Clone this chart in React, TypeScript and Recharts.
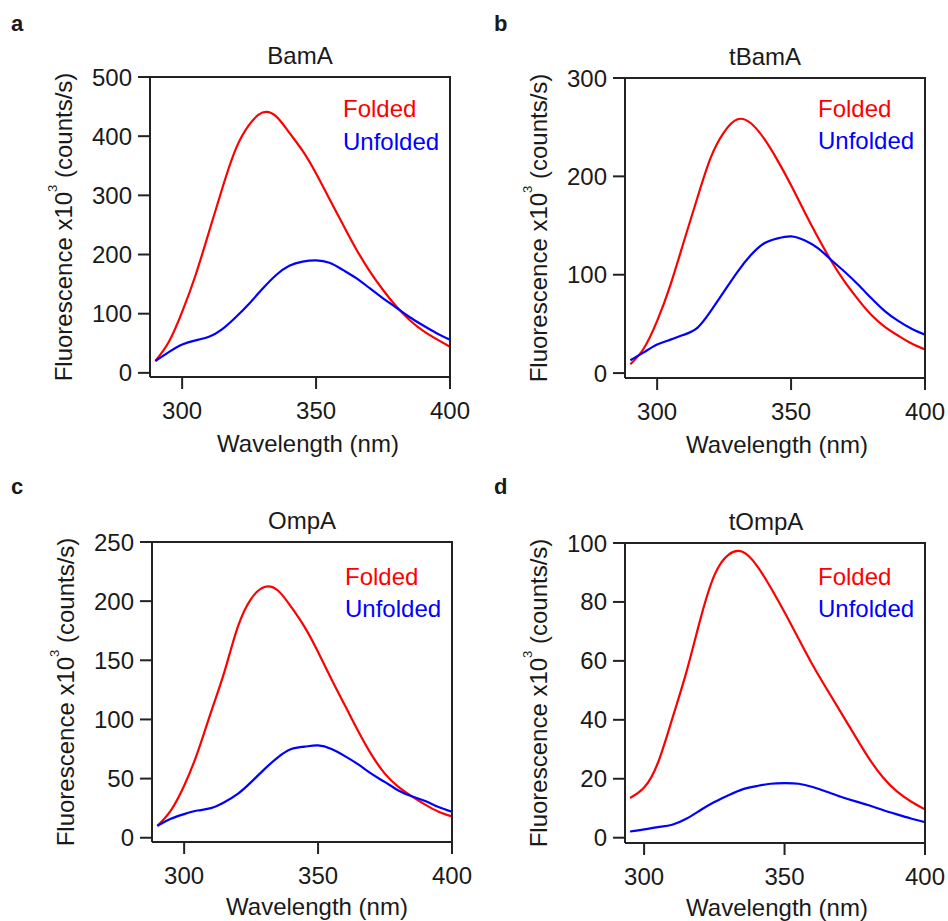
import React from "react";
import { LineChart, Line, XAxis, YAxis, Legend, ReferenceArea } from "recharts";

// wavelengths (nm)
const NM = [290, 295, 300, 305, 310, 315, 320, 325, 330, 335, 340, 345, 350, 355, 360, 365, 370, 375, 380, 385, 390, 395, 400];
const NM_TOMPA = [295, 300, 305, 310, 315, 320, 325, 330, 335, 340, 345, 350, 355, 360, 365, 370, 375, 380, 385, 390, 395, 400];

// fluorescence x10^3 counts/s
const BAMA_FOLDED = [20, 52, 103, 165, 238, 312, 378, 419, 440, 434, 406, 375, 337, 294, 251, 209, 172, 140, 112, 89, 71, 57, 44];
const BAMA_UNFOLDED = [20, 35, 48, 55, 61, 74, 94, 117, 142, 165, 181, 188, 190, 186, 174, 160, 143, 126, 110, 94, 80, 67, 56];

const TBAMA_FOLDED = [9, 25, 53, 90, 134, 178, 219, 245, 258, 254, 238, 216, 191, 164, 138, 114, 93, 75, 59, 47, 38, 30, 24];
const TBAMA_UNFOLDED = [13, 21, 29, 34, 39, 46, 63, 83, 103, 120, 132, 137, 139, 135, 127, 115, 103, 90, 76, 63, 53, 45, 39];

const OMPA_FOLDED = [10, 23, 44, 72, 106, 140, 178, 202, 212, 209, 195, 178, 157, 134, 112, 90, 70, 54, 43, 35, 28, 22, 18];
const OMPA_UNFOLDED = [10, 16, 20, 23, 25, 30, 37, 47, 58, 68, 75, 77, 78, 75, 69, 62, 54, 47, 40, 35, 31, 26, 22];

const TOMPA_FOLDED = [13.5, 17, 25.6, 40.3, 56, 74, 89, 96, 97, 92.5, 85, 76.5, 67.5, 58.6, 50.5, 42.6, 34.7, 27, 20.5, 15.7, 12.3, 9.6];
const TOMPA_UNFOLDED = [2.1, 2.8, 3.6, 4.4, 6.4, 9.3, 12.1, 14.4, 16.4, 17.5, 18.3, 18.5, 18.3, 17.2, 15.6, 13.9, 12.4, 11, 9.4, 7.9, 6.5, 5.3];

const X_TICKS = [300, 350, 400];
const BAMA_TICKS = [0, 100, 200, 300, 400, 500];
const TBAMA_TICKS = [0, 100, 200, 300];
const OMPA_TICKS = [0, 50, 100, 150, 200, 250];
const TOMPA_TICKS = [0, 20, 40, 60, 80, 100];

const INK = "#1a1a1a";
const FONT = '"Liberation Sans", Arial, Helvetica, sans-serif';
const PLOT = 300;

const rows = (nm: number[], folded: number[], unfolded: number[]) =>
  nm.map((x, i) => ({ nm: x, folded: folded[i], unfolded: unfolded[i] }));

// y-axis title, plus the top and right edges of the box around the plot area
function FluorLabel(props: any) {
  const vb = props.viewBox || { x: 0, y: 0, width: 150, height: PLOT };
  const px = vb.x + vb.width;
  const cx = px - 78.5;
  const cy = vb.y + vb.height / 2;
  return (
    <g>
      <path
        d={`M${px},${vb.y}H${px + PLOT}V${vb.y + vb.height}`}
        fill="none"
        stroke="#222"
        strokeWidth={2}
      />
      <text
        x={cx}
        y={cy}
        transform={`rotate(-90 ${cx} ${cy})`}
        textAnchor="middle"
        fontSize={24}
        fill={INK}
      >
        Fluorescence x10
        <tspan fontSize={13} dy={-15}>
          3
        </tspan>
        <tspan dy={15}> (counts/s)</tspan>
      </text>
    </g>
  );
}

function LegendBlock({ payload }: any) {
  return (
    <div style={{ fontSize: 24, lineHeight: "32.5px", whiteSpace: "nowrap" }}>
      {(payload || []).map((p: any) => (
        <div key={p.value} style={{ color: p.color }}>
          {p.value}
        </div>
      ))}
    </div>
  );
}

interface PanelProps {
  letter: string;
  title: string;
  data: { nm: number; folded: number; unfolded: number }[];
  left: number;
  top: number;
  width: number;
  height: number;
  plotX: number;
  plotY: number;
  xDomain: [number, number];
  yDomain: [number, number];
  yTicks: number[];
  titleDx: number;
  xLabelDx: number;
  xLabelOffset: number;
  legendTop: number;
}

function Panel(p: PanelProps) {
  const axis = { stroke: "#222", strokeWidth: 2 };
  const tick = { fontSize: 24, fill: INK };
  return (
    <>
      <div
        style={{
          position: "absolute",
          left: p.left + (p.left ? 24 : 11),
          top: p.top + (p.top ? 15.9 : 13.4),
          fontSize: 22,
          lineHeight: "22px",
          fontWeight: "bold",
          color: INK,
        }}
      >
        {p.letter}
      </div>
      <div style={{ position: "absolute", left: p.left, top: p.top }}>
        <LineChart
          width={p.width}
          height={p.height}
          data={p.data}
          margin={{ top: p.plotY, right: p.width - p.plotX - PLOT, left: 0, bottom: 0 }}
        >
          <XAxis
            dataKey="nm"
            type="number"
            domain={p.xDomain}
            allowDataOverflow
            ticks={X_TICKS}
            height={p.height - p.plotY - PLOT}
            tickSize={12}
            tickMargin={13}
            tick={tick}
            axisLine={axis}
            tickLine={axis}
            label={{
              value: "Wavelength (nm)",
              position: "insideTop",
              offset: p.xLabelOffset,
              dx: p.xLabelDx,
              fontSize: 24,
              fill: INK,
            }}
          />
          <YAxis
            type="number"
            domain={p.yDomain}
            allowDataOverflow
            ticks={p.yTicks}
            width={p.plotX}
            tickSize={12}
            tickMargin={6}
            tick={tick}
            axisLine={axis}
            tickLine={axis}
            label={<FluorLabel />}
          />
          <ReferenceArea
            x1={p.xDomain[0]}
            x2={p.xDomain[1]}
            y1={p.yDomain[0]}
            y2={p.yDomain[1]}
            ifOverflow="visible"
            fill="none"
            fillOpacity={0}
            label={{
              value: p.title,
              position: "top",
              offset: 13,
              dx: p.titleDx,
              fontSize: 24,
              fill: INK,
            }}
          />
          <Legend
            verticalAlign="middle"
            align="center"
            content={<LegendBlock />}
            wrapperStyle={{
              left: p.plotX + PLOT - 107,
              top: p.legendTop,
              width: "auto",
              height: "auto",
            }}
          />
          <Line
            type="natural"
            dataKey="folded"
            name="Folded"
            stroke="#ff0000"
            strokeWidth={2.2}
            dot={false}
            activeDot={false}
            isAnimationActive={false}
          />
          <Line
            type="natural"
            dataKey="unfolded"
            name="Unfolded"
            stroke="#0000ff"
            strokeWidth={2.2}
            dot={false}
            activeDot={false}
            isAnimationActive={false}
          />
        </LineChart>
      </div>
    </>
  );
}

export default function App() {
  return (
    <div
      style={{
        position: "absolute",
        left: 0,
        top: 0,
        width: 948,
        height: 921,
        background: "#fff",
        fontFamily: FONT,
        overflow: "hidden",
      }}
    >
      <Panel
        letter="a"
        title="BamA"
        data={rows(NM, BAMA_FOLDED, BAMA_UNFOLDED)}
        left={0}
        top={0}
        width={490}
        height={460}
        plotX={150}
        plotY={77}
        xDomain={[288, 400]}
        yDomain={[-7, 500]}
        yTicks={BAMA_TICKS}
        titleDx={0}
        xLabelDx={8}
        xLabelOffset={58}
        legendTop={93.1}
      />
      <Panel
        letter="b"
        title="tBamA"
        data={rows(NM, TBAMA_FOLDED, TBAMA_UNFOLDED)}
        left={470}
        top={0}
        width={478}
        height={460}
        plotX={155}
        plotY={78}
        xDomain={[288, 400]}
        yDomain={[-5, 300]}
        yTicks={TBAMA_TICKS}
        titleDx={-10}
        xLabelDx={2}
        xLabelOffset={58}
        legendTop={92.7}
      />
      <Panel
        letter="c"
        title="OmpA"
        data={rows(NM, OMPA_FOLDED, OMPA_UNFOLDED)}
        left={0}
        top={460}
        width={490}
        height={461}
        plotX={152}
        plotY={82}
        xDomain={[288, 400]}
        yDomain={[-3.6, 250]}
        yTicks={OMPA_TICKS}
        titleDx={0}
        xLabelDx={15}
        xLabelOffset={56}
        legendTop={100.7}
      />
      <Panel
        letter="d"
        title="tOmpA"
        data={rows(NM_TOMPA, TOMPA_FOLDED, TOMPA_UNFOLDED)}
        left={470}
        top={460}
        width={478}
        height={461}
        plotX={155}
        plotY={83}
        xDomain={[293.2, 400]}
        yDomain={[-1.8, 100]}
        yTicks={TOMPA_TICKS}
        titleDx={-9}
        xLabelDx={2}
        xLabelOffset={56}
        legendTop={100.7}
      />
    </div>
  );
}
